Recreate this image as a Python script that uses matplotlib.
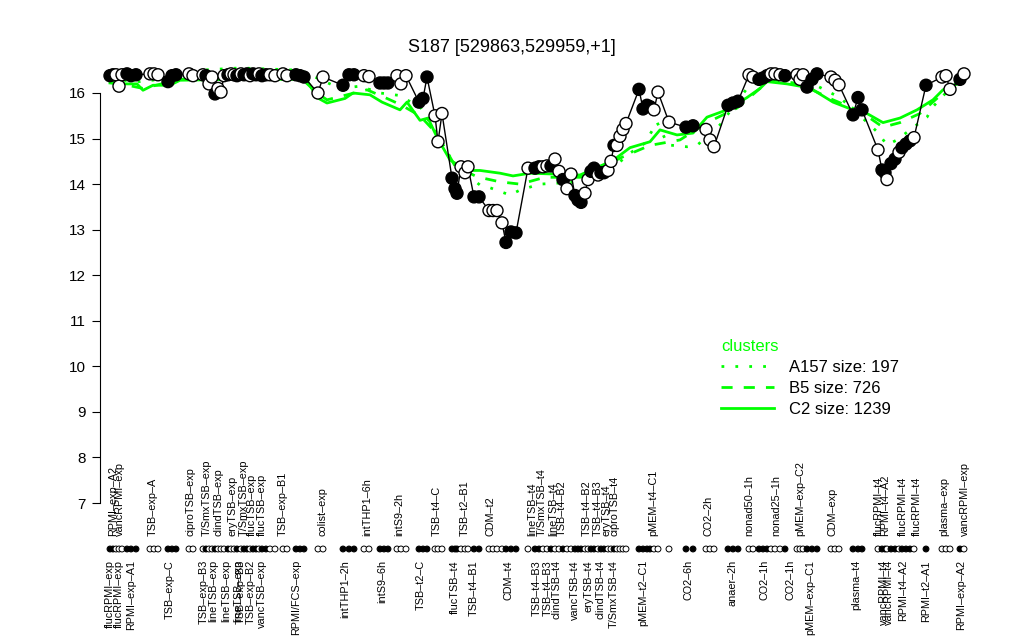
import matplotlib.pyplot as plt
from matplotlib.transforms import blended_transform_factory

# measured points: position along x, expression value, filled (1) or open (0)
pos = [110, 113, 116, 119, 122, 127, 131, 136, 150, 154, 158, 168, 172, 176, 189, 193,
       203, 206, 209, 212, 215, 218, 221, 224, 228, 231, 234, 237, 241, 244, 247, 250,
       253, 256, 259, 262, 266, 270, 275, 283, 287, 296, 300, 304, 318, 323,
       343, 349, 354, 364, 369, 380, 384, 388, 397, 401, 406,
       419, 423, 427, 435, 438, 442, 452, 455, 457, 461, 465, 468, 474, 479,
       489, 493, 497, 502, 506, 511, 516,
       528, 535, 539, 543, 547, 551, 555, 559, 563, 567, 571, 575, 578, 581, 585, 588,
       591, 594, 598, 601, 604, 608, 611, 614, 617, 620, 623, 626,
       639, 643, 647, 650, 654, 658, 669, 686, 693, 706, 710, 714, 728, 733, 738,
       749, 753, 759, 763, 767, 771, 775, 780, 785, 797, 800, 803, 807, 812, 817,
       831, 835, 839, 853, 858, 862,
       878, 882, 885, 887, 891, 895, 899, 902, 906, 910, 914, 926, 942, 946, 950, 960, 964]
val = [16.38, 16.40, 16.40, 16.15, 16.40, 16.42, 16.38, 16.40, 16.42, 16.42, 16.40, 16.25, 16.38, 16.40, 16.42, 16.38,
       16.40, 16.38, 16.20, 16.35, 15.98, 16.10, 16.02, 16.38, 16.40, 16.42, 16.40, 16.38, 16.42, 16.40, 16.42, 16.38,
       16.42, 16.40, 16.42, 16.38, 16.40, 16.40, 16.38, 16.42, 16.38, 16.40, 16.38, 16.35, 16.00, 16.35,
       16.17, 16.40, 16.40, 16.38, 16.36, 16.22, 16.22, 16.22, 16.38, 16.20, 16.38,
       15.80, 15.88, 16.35, 15.50, 14.93, 15.55, 14.13, 13.90, 13.80, 14.38, 14.25, 14.38, 13.72, 13.72,
       13.42, 13.42, 13.42, 13.15, 12.72, 12.95, 12.93,
       14.35, 14.35, 14.38, 14.38, 14.40, 14.40, 14.55, 14.28, 14.10, 13.90, 14.22, 13.75, 13.65, 13.60, 13.80, 14.10,
       14.28, 14.35, 14.20, 14.25, 14.25, 14.30, 14.50, 14.85, 14.85, 15.05, 15.20, 15.33,
       16.08, 15.65, 15.73, 15.70, 15.63, 16.02, 15.36, 15.25, 15.28, 15.20, 14.97, 14.82, 15.73, 15.78, 15.82,
       16.40, 16.35, 16.30, 16.33, 16.38, 16.42, 16.42, 16.40, 16.38, 16.40, 16.30, 16.40, 16.13, 16.30, 16.42,
       16.35, 16.28, 16.18, 15.52, 15.90, 15.63,
       14.75, 14.31, 14.25, 14.10, 14.45, 14.55, 14.70, 14.80, 14.88, 14.95, 15.02, 16.17, 16.35, 16.38, 16.08, 16.30, 16.42]
filled = [1, 1, 0, 0, 0, 1, 1, 1, 0, 0, 0, 1, 1, 1, 0, 0,
          0, 1, 0, 0, 1, 0, 0, 0, 1, 0, 0, 1, 0, 1, 1, 0,
          1, 1, 0, 1, 1, 0, 0, 0, 0, 1, 1, 1, 0, 0,
          1, 1, 1, 0, 0, 1, 1, 1, 0, 0, 0,
          1, 1, 1, 0, 0, 0, 1, 1, 1, 0, 0, 0, 1, 1,
          0, 0, 0, 0, 1, 1, 1,
          0, 1, 1, 0, 0, 1, 0, 0, 1, 0, 0, 1, 1, 1, 0, 0,
          1, 1, 0, 1, 1, 0, 0, 1, 0, 0, 0, 0,
          1, 1, 1, 1, 0, 0, 0, 1, 1, 0, 0, 0, 1, 1, 1,
          0, 0, 1, 1, 1, 0, 0, 0, 1, 0, 0, 0, 1, 1, 1,
          0, 0, 0, 1, 1, 1,
          0, 1, 1, 0, 1, 1, 0, 1, 1, 1, 0, 1, 0, 0, 0, 1, 0]

# cluster mean profiles
c2_x = [110, 120, 137, 143, 153, 170, 180, 233, 300, 307, 317, 327, 345, 353, 370, 382, 400, 407,
        420, 428, 437, 450, 467, 480, 500, 513, 530, 580, 613, 630, 650, 660, 677, 693, 707, 727,
        747, 760, 767, 787, 800, 813, 833, 853, 867, 883, 900, 917, 933, 943, 963]
c2_y = [16.22, 16.2, 16.2, 16.06, 16.17, 16.17, 16.28, 16.3, 16.3, 16.28, 15.9, 15.78, 15.88, 16.0,
        15.96, 15.8, 15.63, 15.8, 15.4, 15.45, 15.03, 14.53, 14.3, 14.3, 14.24, 14.18, 14.24, 14.2,
        14.52, 14.8, 14.93, 15.19, 15.08, 15.12, 15.47, 15.63, 15.9, 16.1, 16.25, 16.2, 16.15, 16.07,
        15.8, 15.63, 15.55, 15.35, 15.45, 15.63, 15.85, 16.07, 16.25]
b5_x = [110, 143, 180, 300, 317, 327, 367, 385, 400, 420, 437, 455, 477, 500, 520, 545, 580, 623,
        650, 680, 707, 737, 760, 770, 800, 833, 860, 883, 900, 920, 943, 963]
b5_y = [16.25, 16.1, 16.3, 16.35, 16.0, 15.85, 16.07, 15.9, 15.75, 15.5, 15.1, 14.4, 14.16, 14.05,
        14.0, 14.15, 14.15, 14.6, 14.85, 14.97, 15.35, 15.67, 16.1, 16.3, 16.2, 15.85, 15.6, 15.25,
        15.35, 15.55, 16.0, 16.3]
a157_x = [110, 140, 160, 200, 240, 300, 320, 340, 360, 380, 398, 420, 440, 455, 480, 490, 510, 520,
          540, 580, 610, 630, 645, 657, 668, 687, 697, 720, 747, 770, 800, 822, 840, 868, 877, 887,
          897, 910, 927, 933, 950, 965]
a157_y = [16.3, 16.25, 16.3, 16.5, 16.55, 16.5, 16.3, 16.1, 16.15, 16.0, 15.95, 15.7, 15.0, 14.4,
          13.98, 13.92, 13.76, 13.87, 14.0, 14.05, 14.3, 14.68, 14.9, 15.36, 14.86, 14.82, 14.85,
          15.3, 16.1, 16.4, 16.35, 16.1, 15.9, 15.34, 15.15, 14.86, 14.97, 15.19, 15.47, 15.7, 16.1,
          16.35]

top_lab_x = [113, 120, 153, 190, 207, 219, 232, 244, 252, 262, 283, 322, 367, 399, 437, 465, 491,
             532, 542, 553, 562, 587, 598, 607, 615, 653, 708, 749, 776, 800, 833, 879, 885, 903,
             917, 944, 965]
top_lab = ['RPMI\u2013exp\u2013A2', 'vancRPMI\u2013exp', 'TSB\u2013exp\u2013A', 'ciproTSB\u2013exp',
           'T/SmxTSB\u2013exp', 'clindTSB\u2013exp', 'eryTSB\u2013exp', 'T/SmxTSB\u2013exp',
           'flucTSB\u2013exp', 'flucTSB\u2013exp', 'TSB\u2013exp\u2013B1', 'colist\u2013exp',
           'intTHP1\u20136h', 'intS9\u20132h', 'TSB\u2013t4\u2013C', 'TSB\u2013t2\u2013B1', 'CDM\u2013t2',
           'lineTSB\u2013t4', 'T/SmxTSB\u2013t4', 'lineTSB\u2013t4', 'TSB\u2013t4\u2013B2',
           'TSB\u2013t4\u2013B2', 'TSB\u2013t4\u2013B3', 'eryTSB\u2013t4', 'ciproTSB\u2013t4',
           'pMEM\u2013t4\u2013C1', 'CO2\u20132h', 'nonad50\u20131h', 'nonad25\u20131h',
           'pMEM\u2013exp\u2013C2', 'CDM\u2013exp', 'flucRPMI\u2013t4', 'RPMI\u2013t4\u2013A2',
           'flucRPMI\u2013t4', 'flucRPMI\u2013t4', 'plasma\u2013exp', 'vancRPMI\u2013exp']
bot_lab_x = [110, 119, 131, 170, 204, 213, 226, 238, 241, 251, 262, 296, 345, 382, 421, 455, 474,
             508, 537, 548, 557, 575, 588, 601, 614, 643, 688, 733, 765, 790, 810, 856, 884, 889,
             903, 926, 961]
bot_lab = ['flucRPMI\u2013exp', 'flucRPMI\u2013exp', 'RPMI\u2013exp\u2013A1', 'TSB\u2013exp\u2013C',
           'TSB\u2013exp\u2013B3', 'lineTSB\u2013exp', 'lineTSB\u2013exp', 'lineTSB\u2013exp',
           'TSB\u2013exp\u2013B3', 'TSB\u2013exp\u2013B2', 'vancTSB\u2013exp', 'RPMI/FCS\u2013exp',
           'intTHP1\u20132h', 'intS9\u20136h', 'TSB\u2013t2\u2013C', 'flucTSB\u2013t4', 'TSB\u2013t4\u2013B1',
           'CDM\u2013t4', 'TSB\u2013t4\u2013B3', 'TSB\u2013t4\u2013B3', 'clindTSB\u2013t4',
           'vancTSB\u2013t4', 'eryTSB\u2013t4', 'clindTSB\u2013t4', 'T/SmxTSB\u2013t4',
           'pMEM\u2013t2\u2013C1', 'CO2\u20136h', 'anaer\u20132h', 'CO2\u20131h', 'CO2\u20131h',
           'pMEM\u2013exp\u2013C1', 'plasma\u2013t4', 'vancRPMI\u2013t4', 'vancRPMI\u2013t4',
           'RPMI\u2013t4\u2013A2', 'RPMI\u2013t2\u2013A1', 'RPMI\u2013exp\u2013A2']

plt.rcParams['font.family'] = ['Liberation Sans', 'DejaVu Sans']
fig = plt.figure(figsize=(10.24, 6.4), dpi=100)
# axes spans pixel rows 60..520, columns 100..1000
ax = fig.add_axes([100 / 1024, 1 - 520 / 640, 900 / 1024, 460 / 640])
ax.set_xlim(100, 1000)
y_top = 16 + (93 - 60) / 45.56
y_bot = 16 - (520 - 93) / 45.56
ax.set_ylim(y_bot, y_top)

green = '#00ff00'
l1, = ax.plot(a157_x, a157_y, color=green, lw=2, ls=(0, (1, 4)), label='A157 size: 197')
l2, = ax.plot(b5_x, b5_y, color=green, lw=2, ls=(0, (4, 4)), label='B5 size: 726')
l3, = ax.plot(c2_x, c2_y, color=green, lw=2, label='C2 size: 1239')

ax.plot(pos, val, color='black', lw=1, zorder=3)
fc = ['black' if f else 'white' for f in filled]
ax.scatter(pos, val, s=75, facecolors=fc, edgecolors='black', linewidths=1, zorder=4)

for s in ['top', 'right', 'bottom']:
    ax.spines[s].set_visible(False)
ax.spines['left'].set_bounds(7, 16)
ax.set_xticks([])
ax.set_yticks(range(7, 17))
ax.tick_params(axis='y', labelsize=11, length=6, pad=4)

fig.text(512 / 1024, 1 - 47 / 640, 'S187 [529863,529959,+1]', fontsize=13,
         ha='center', va='center')

# membership strip and condition labels below the plot
tr = blended_transform_factory(ax.transData, fig.transFigure)
ax.scatter(pos, [1 - 549 / 640] * len(pos), s=18, facecolors=fc, edgecolors='black',
           linewidths=0.7, transform=tr, clip_on=False)
for x, t in zip(top_lab_x, top_lab):
    ax.text(x, 1 - 536 / 640, t, rotation=90, ha='center', va='bottom', fontsize=7.8, transform=tr)
for x, t in zip(bot_lab_x, bot_lab):
    ax.text(x, 1 - 560 / 640, t, rotation=90, ha='center', va='top', fontsize=7.8, transform=tr)

leg = ax.legend(handles=[l1, l2, l3], title='clusters', loc='upper left',
                bbox_to_anchor=(706 / 1024, 1 - 324 / 640), bbox_transform=fig.transFigure,
                frameon=False, fontsize=12, title_fontsize=12, handlelength=3.2,
                handletextpad=0.9, alignment='left', labelspacing=0.35)
leg.get_title().set_color(green)

fig.savefig('out.png', dpi=100)
